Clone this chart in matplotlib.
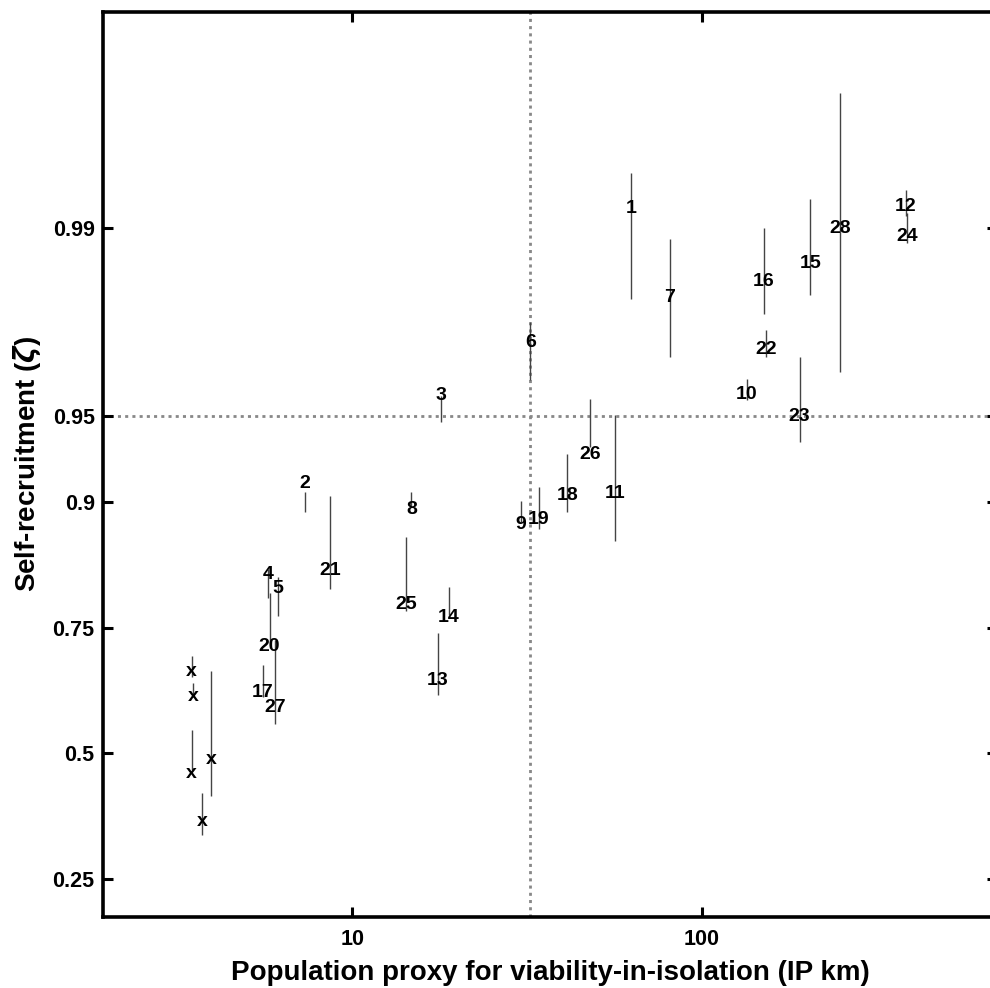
import numpy as np
import matplotlib
matplotlib.use("Agg")
import matplotlib.pyplot as plt
from matplotlib.ticker import NullLocator, FixedLocator, FixedFormatter

plt.rcParams['font.family'] = ['Liberation Sans', 'DejaVu Sans']
plt.rcParams['font.weight'] = 'bold'

#Site labels ('x' = unlabelled site)
labels = ['1', '2', '3', '4', '5', '6', '7', '8', '9', '10',
          '11', '12', '13', '14', '15', '16', '17', '18', '19', '20',
          '21', '22', '23', '24', '25', '26', '27', '28',
          'x', 'x', 'x', 'x', 'x']

#Population proxy (IP km)
ip_km = [62.8, 7.30, 17.97, 5.73, 6.13, 32.3, 81.1, 14.75, 30.4, 134.4,
         56.6, 383.8, 17.57, 18.86, 204.6, 150.8, 5.53, 41.2, 34.2, 5.79,
         8.61, 152.4, 190.7, 387.7, 14.27, 48.0, 5.99, 249.3,
         3.46, 3.50, 3.46, 3.93, 3.71]

#Self-recruitment estimate
zeta = [0.9915, 0.9137, 0.9582, 0.8270, 0.8088, 0.9731, 0.9818, 0.8941, 0.8812, 0.9585,
        0.9066, 0.9917, 0.6549, 0.7666, 0.9864, 0.9841, 0.6294, 0.9053, 0.8849, 0.7187,
        0.8323, 0.9716, 0.9499, 0.9892, 0.7867, 0.9319, 0.5992, 0.9899,
        0.6712, 0.6212, 0.4564, 0.4854, 0.3549]

#Interval lower / upper
zeta_lo = [0.9815, 0.8915, 0.9478, 0.7958, 0.7686, 0.9631, 0.9697, 0.8960, 0.8830, 0.9564,
           0.8651, 0.9910, 0.6247, 0.7700, 0.9822, 0.9789, 0.6212, 0.8915, 0.8765, 0.7150,
           0.8083, 0.9696, 0.9384, 0.9886, 0.7767, 0.9359, 0.5637, 0.9656,
           0.6600, 0.6210, 0.4636, 0.4077, 0.3287]
zeta_hi = [0.9938, 0.9078, 0.9578, 0.8330, 0.8232, 0.9775, 0.9890, 0.9073, 0.9007, 0.9635,
           0.9506, 0.9928, 0.7416, 0.8102, 0.9922, 0.9900, 0.6840, 0.9317, 0.9114, 0.8020,
           0.9046, 0.9759, 0.9696, 0.9912, 0.8686, 0.9569, 0.7292, 0.9969,
           0.7007, 0.6484, 0.5507, 0.6731, 0.4147]

x_thresh = 32.2
y_thresh = 0.95

yticks = [0.25, 0.5, 0.75, 0.9, 0.95, 0.99]
ytick_labels = ['0.25', '0.5', '0.75', '0.9', '0.95', '0.99']
xticks = [10, 100]

fig = plt.figure(figsize=(9.9, 9.88), dpi=100)
ax = fig.add_axes([0.1040, 0.0719, 0.9030, 0.9160])
ax.set_xscale('log')
ax.set_yscale('logit')
ax.set_xlim(1.93, 700)
ax.set_ylim(0.193, 0.99847)

#threshold lines
ax.axvline(x_thresh, color='#888888', lw=2, ls=(0, (1.1, 1.5)), zorder=1)
ax.axhline(y_thresh, color='#888888', lw=2, ls=(0, (1.1, 1.5)), zorder=1)

#intervals and labels
ax.vlines(ip_km, zeta_lo, zeta_hi, color='#444444', lw=1, zorder=2)
for lab, x, y in zip(labels, ip_km, zeta):
    ax.text(x, y, lab, ha='center', va='center', fontsize=14, fontweight='bold', zorder=3)

#axes styling
ax.xaxis.set_major_locator(FixedLocator(xticks))
ax.xaxis.set_major_formatter(FixedFormatter(['10', '100']))
ax.xaxis.set_minor_locator(NullLocator())
ax.yaxis.set_major_locator(FixedLocator(yticks))
ax.yaxis.set_major_formatter(FixedFormatter(ytick_labels))
ax.yaxis.set_minor_locator(NullLocator())
ax.tick_params(direction='in', length=7, width=2.2, labelsize=15.5,
               top=True, right=True, pad=6)
ax.tick_params(axis='x', pad=9)
for lab in ax.get_xticklabels() + ax.get_yticklabels():
    lab.set_fontweight('bold')
for s in ax.spines.values():
    s.set_linewidth(2.6)

ax.set_xlabel('Population proxy for viability-in-isolation (IP km)', fontsize=20, fontweight='bold', labelpad=7)
ax.set_ylabel('Self-recruitment ($\\zeta$)', fontsize=20, fontweight='bold', labelpad=7)

fig.savefig('out.png', dpi=100)
